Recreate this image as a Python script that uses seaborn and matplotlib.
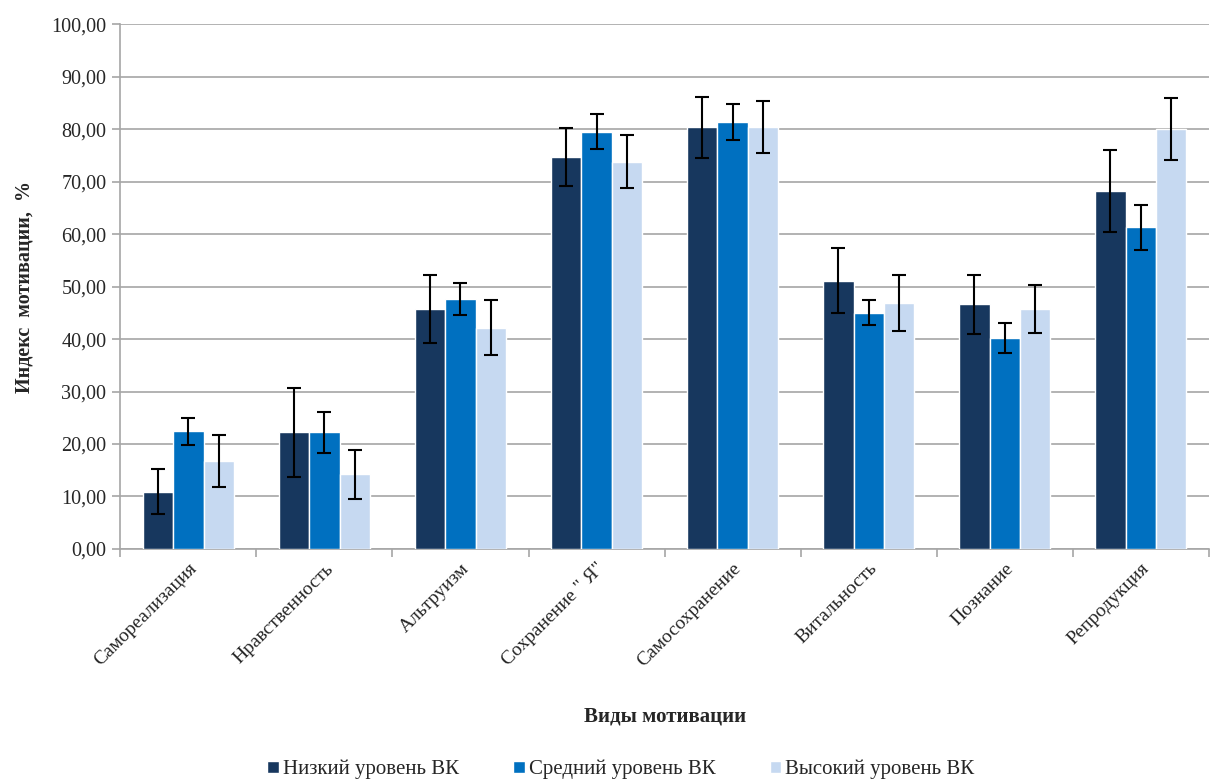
import matplotlib
matplotlib.use('Agg')
import matplotlib.pyplot as plt
from matplotlib.ticker import FuncFormatter, FixedLocator
import seaborn as sns
import pandas as pd
import numpy as np

categories = ['Самореализация', 'Нравственность', 'Альтруизм', 'Сохранение " Я"',
              'Самосохранение', 'Витальность', 'Познание', 'Репродукция']
groups = ['Низкий уровень ВК', 'Средний уровень ВК', 'Высокий уровень ВК']

low_vals = [10.9, 22.2, 45.7, 74.7, 80.4, 51.1, 46.6, 68.3]
mid_vals = [22.4, 22.2, 47.6, 79.5, 81.4, 45.0, 40.2, 61.3]
high_vals = [16.8, 14.2, 42.2, 73.8, 80.4, 46.9, 45.7, 80.0]

low_err = [4.3, 8.4, 6.5, 5.6, 5.8, 6.2, 5.7, 7.8]
mid_err = [2.6, 3.9, 3.0, 3.3, 3.4, 2.4, 2.8, 4.3]
high_err = [4.9, 4.6, 5.3, 5.1, 4.9, 5.3, 4.6, 5.9]

colors = ['#17375E', '#0070C0', '#C6D9F1']

df = pd.DataFrame({
    'cat': categories * 3,
    'group': [g for g in groups for _ in categories],
    'value': low_vals + mid_vals + high_vals,
})
errs = [low_err, mid_err, high_err]

sns.set_style('white')
plt.rcParams['font.family'] = ['Liberation Serif', 'DejaVu Serif']

fig, ax = plt.subplots(figsize=(12.15, 7.82), dpi=100)
fig.subplots_adjust(left=0.099, right=0.995, top=0.969, bottom=0.298)

sns.barplot(data=df, x='cat', y='value', hue='group', palette=colors,
            width=0.67, errorbar=None, saturation=1, ax=ax, zorder=3)

for cont, err in zip(ax.containers, errs):
    xs = [p.get_x() + p.get_width() / 2 for p in cont.patches]
    ys = [p.get_height() for p in cont.patches]
    ax.errorbar(xs, ys, yerr=err, fmt='none', ecolor='black', elinewidth=1.5,
                capsize=5, capthick=1.5, zorder=4)

ax.set_ylim(0, 100)
ax.set_xlim(-0.5, len(categories) - 0.5)
ax.set_yticks(np.arange(0, 101, 10))
ax.yaxis.set_major_formatter(FuncFormatter(lambda v, p: f'{v:.2f}'.replace('.', ',')))
ax.yaxis.grid(True, color='#A6A6A6', lw=1.2, zorder=0)
ax.set_axisbelow(True)

# ticks at category boundaries
ax.xaxis.set_major_locator(FixedLocator(np.arange(len(categories))))
ax.set_xticks(np.arange(-0.5, len(categories), 1), minor=True)
ax.tick_params(axis='x', which='major', length=0, labelsize=14, pad=8)
ax.tick_params(axis='x', which='minor', length=6, color='#A6A6A6', width=1.2, direction='out')
ax.tick_params(axis='y', length=6, color='#A6A6A6', width=1.2, direction='out', labelsize=14.5, pad=4)
ax.tick_params(bottom=True, left=True, which='both')
plt.setp(ax.get_xticklabels(), rotation=45, ha='right', rotation_mode='anchor')

for s in ['top', 'right']:
    ax.spines[s].set_visible(False)
for s in ['left', 'bottom']:
    ax.spines[s].set_color('#A6A6A6')
    ax.spines[s].set_linewidth(1.2)

ax.set_xlabel('Виды мотивации', fontsize=15, fontweight='bold', labelpad=26)
ax.set_ylabel('Индекс  мотивации,  %', fontsize=14.5, fontweight='bold', labelpad=12)

handles, labels = ax.get_legend_handles_labels()
ax.legend(handles, labels, loc='lower center', bbox_to_anchor=(0.46, -0.475),
          ncol=3, frameon=False, fontsize=15, handlelength=0.55, handleheight=0.55,
          handletextpad=0.2, columnspacing=2.6)

fig.savefig('out.png', dpi=100)
